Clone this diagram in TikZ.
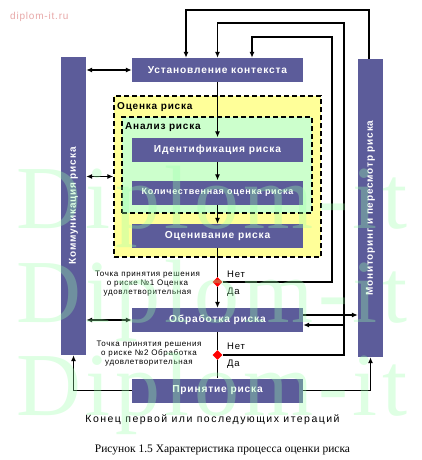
\documentclass[tikz,border=0pt]{standalone}
\usepackage{fontspec}
\setmainfont{Liberation Sans}
\newfontfamily\sps{Liberation Sans}[LetterSpace=8]
\newfontfamily\spw{Liberation Sans}[LetterSpace=14]
\newfontfamily\serf{Liberation Serif}
\newfontfamily\wmf{Liberation Serif}[LetterSpace=5]
\usetikzlibrary{arrows.meta,shapes.geometric}
\definecolor{boxblue}{HTML}{5C5C9A}
\definecolor{ylw}{HTML}{FFFF99}
\definecolor{grn}{HTML}{CCFFCC}
\definecolor{wmc}{HTML}{99FFAA}
\definecolor{pinkt}{HTML}{E8A8A8}
\begin{document}
\begin{tikzpicture}[x=1pt,y=-1pt,
  blk/.style={fill=boxblue, text=white, font=\sps\bfseries\fontsize{10.2}{12}\selectfont,
    minimum width=171pt, minimum height=24pt, inner sep=0pt},
  bar/.style={fill=boxblue, minimum width=25pt, minimum height=298pt, inner sep=0pt},
  bartext/.style={rotate=90, text=white, font=\sps\bfseries\fontsize{10}{12}\selectfont, inner sep=0pt},
  ln/.style={line width=1.4pt},
  arr/.style={ln, -{Latex[length=6pt,width=5pt]}},
  darr/.style={ln, {Latex[length=6pt,width=5pt]}-{Latex[length=6pt,width=5pt]}},
  dia/.style={diamond, fill=red, minimum size=10pt, inner sep=0pt},
  dbox/.style={draw, dash pattern=on 5pt off 3pt, line width=1.4pt, inner sep=0pt},
  grplabel/.style={anchor=base west, inner sep=0pt, font=\sps\bfseries\fontsize{10}{12}\selectfont},
  yn/.style={anchor=base west, inner sep=0pt, font=\sps\fontsize{9.5}{11}\selectfont},
  dtext/.style={anchor=north, inner sep=0pt, align=center, font=\sps\fontsize{8}{9}\selectfont},
  wm/.style={anchor=base west, inner sep=0pt, text=wmc, opacity=0.32, font=\wmf\fontsize{90}{90}\selectfont}
]
\useasboundingbox[fill=white] (0,0) rectangle (422,460);

% groups
\node[dbox, fill=ylw, minimum width=207pt, minimum height=161pt] (ocen) at (217.5,176.5) {};
\node[dbox, fill=grn, minimum width=190pt, minimum height=96pt] (anal) at (217,165) {};
\node[grplabel] (ocenl) at (117,109) {Оценка риска};
\node[grplabel] (anall) at (125,129) {Анализ риска};

% boxes
\node[blk] (ctx) at (217.5,70) {Установление контекста};
\node[blk] (ident) at (217.5,149.5) {Идентификация риска};
\node[blk, font=\sps\bfseries\fontsize{9}{11}\selectfont] (quant) at (217.5,192.5) {Количественная оценка риска};
\node[blk] (evalr) at (217.5,236) {Оценивание риска};
\node[blk] (treat) at (217.5,320) {Обработка риска};
\node[blk] (accept) at (217.5,390.5) {Принятие риска};

% bars
\node[bar] (comm) at (73.5,206) {};
\node[bartext] (commt) at (comm.center) {Коммуникация риска};
\node[bar] (mon) at (370.5,208) {};
\node[bartext] (mont) at (mon.center) {Мониторинг и пересмотр риска};

% decisions
\node[dia] (d1) at (217.5,282) {};
\node[dia] (d2) at (217.5,355) {};

% main flow
\draw[arr] (ctx.south) -- (ident.north);
\draw[arr] (ident.south) -- (quant.north);
\draw[arr] (quant.south) -- (evalr.north);
\draw[ln] (evalr.south) -- (d1.north);
\draw[arr] (d1.south) -- (treat.north);
\draw[ln] (treat.south) -- (d2.north);
\draw[ln] (d2.south) -- (accept.north);

% loops
\coordinate (l1) at (332,37);
\coordinate (l2) at (344,23);
\coordinate (l3) at (369,10);
\coordinate (br) at (344,325);
\draw[arr] (d1.east) -| (l1) -| ([xshift=34.5pt]ctx.north);
\draw[arr] (d2.east) -| (l2) -| (ctx.north);
\draw[arr] (l3 |- mon.north) -- (l3) -| ([xshift=-31.5pt]ctx.north);
\draw[arr] (br) -- (br -| treat.east);
\draw[arr] ([yshift=5pt]treat.east) -- ([yshift=5pt]treat.east -| mon.west);
\draw[arr] (accept.west) -| (comm.south);
\draw[arr] (accept.east) -| (mon.south);

% communication
\draw[darr] (comm.east |- ctx.west) -- (ctx.west);
\draw[darr] (comm.east |- ocen.west) -- (ocen.west);
\draw[darr] (comm.east |- treat.west) -- (treat.west);

% labels
\node[yn] (n1) at (227,277) {Нет};
\node[yn] (y1) at (227,294) {Да};
\node[yn] (n2) at (227,349) {Нет};
\node[yn] (y2) at (227,366) {Да};
\node[dtext] (t1) at (147.5,271) {Точка принятия решения\\о риске №1 Оценка\\удовлетворительная};
\node[dtext] (t2) at (149,341) {Точка принятия решения\\о риске №2 Обработка\\удовлетворительная};
\node[anchor=base, inner sep=0pt, font=\spw\fontsize{10.5}{12}\selectfont] (endt) at (212.5,422) {Конец первой или последующих итераций};
\node[anchor=base, inner sep=0pt, font=\serf\fontsize{11.5}{13}\selectfont] (cap) at (222.5,452) {Рисунок 1.5 Характеристика процесса оценки риска};

% watermarks
\node[anchor=base west, inner sep=0pt, text=pinkt, font=\sps\fontsize{10}{12}\selectfont] (site) at (10,20) {diplom-it.ru};
\node[wm] (w1) at (16,228) {Diplom-it};
\node[wm] (w2) at (16,322) {Diplom-it};
\node[wm] (w3) at (16,415) {Diplom-it};
\end{tikzpicture}
\end{document}
